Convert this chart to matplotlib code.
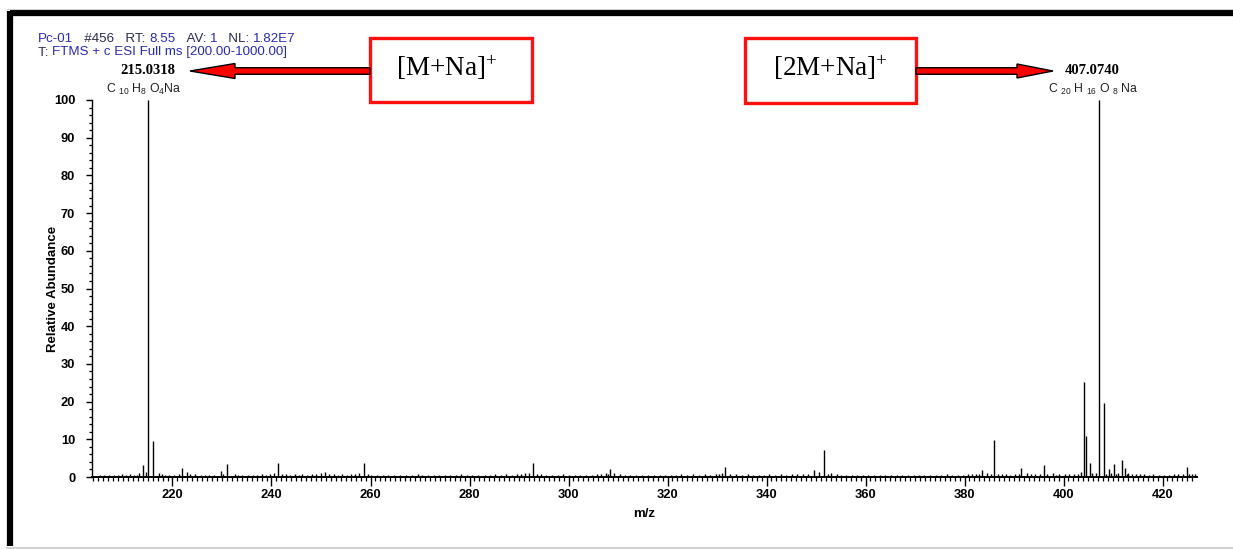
import matplotlib
matplotlib.use("Agg")
import matplotlib.pyplot as plt
from matplotlib.patches import Rectangle, FancyArrow
from matplotlib.offsetbox import TextArea, HPacker, AnnotationBbox
from matplotlib.ticker import MultipleLocator

plt.rcParams['mathtext.default'] = 'regular'

# ---------------- data ----------------
peak_mz = [213.95, 215.03, 216.03, 222.0, 229.7, 231.0, 241.3, 258.6, 292.9, 308.4,
           331.6, 349.6, 351.7, 383.5, 385.9, 391.4, 396.0, 404.1, 404.6, 405.3,
           407.07, 408.08, 409.1, 410.2, 411.9, 412.4, 425.0]
peak_int = [3.3, 100, 9.5, 2.5, 1.5, 3.4, 3.6, 3.6, 3.6, 2.0,
            2.6, 1.8, 7.1, 1.9, 9.8, 2.5, 3.2, 25.2, 11.0, 3.6,
            100, 19.6, 2.0, 3.5, 4.4, 2.5, 2.6]

noise_mz = [206.2, 208.1, 209.7, 211.4, 212.3, 213.2, 214.6, 217.2, 218.4, 222.9,
            223.6, 224.5, 225.8, 227.3, 232.6, 234.1, 236.2, 238.0, 239.6, 240.6,
            243.0, 244.7, 246.2, 248.1, 249.9, 250.8, 252.6, 254.3, 256.0, 257.6,
            260.2, 262.5, 264.8, 267.1, 269.5, 271.6, 273.9, 276.0, 278.3, 280.6,
            283.1, 285.2, 287.4, 289.6, 291.2, 292.1, 294.4, 296.7, 298.9, 301.3,
            303.6, 305.8, 307.5, 309.2, 311.4, 313.7, 316.0, 318.4, 320.7, 322.8,
            325.1, 327.5, 329.7, 331.0, 333.9, 336.2, 338.4, 340.6, 342.9, 345.1,
            347.3, 350.6, 353.0, 354.2, 356.1, 358.3, 360.6, 362.9, 365.2, 367.4,
            369.7, 371.9, 374.2, 376.4, 378.7, 380.8, 382.4, 384.6, 386.8, 388.4,
            390.1, 392.6, 394.2, 395.3, 397.8, 399.1, 401.2, 402.9, 403.6, 406.6,
            409.6, 411.0, 413.1, 414.6, 416.2, 418.1, 420.3, 422.4, 424.1, 426.0]
noise_int = [0.6, 0.5, 0.7, 0.8, 0.6, 1.0, 1.2, 1.1, 0.6, 1.3,
             0.9, 0.7, 0.6, 0.5, 0.9, 0.6, 0.5, 0.7, 0.8, 1.1,
             0.9, 0.8, 0.7, 0.9, 1.0, 1.2, 0.8, 0.7, 0.9, 1.0,
             0.6, 0.5, 0.6, 0.5, 0.7, 0.6, 0.5, 0.6, 0.7, 0.5,
             0.6, 0.7, 0.8, 0.9, 1.1, 1.0, 0.8, 0.6, 0.7, 0.5,
             0.6, 0.7, 1.0, 1.1, 0.6, 0.5, 0.6, 0.5, 0.6, 0.7,
             0.8, 0.7, 0.9, 1.0, 0.8, 0.7, 0.6, 0.7, 0.8, 0.7,
             0.9, 1.2, 1.0, 0.8, 0.6, 0.5, 0.6, 0.5, 0.6, 0.5,
             0.6, 0.5, 0.6, 0.7, 0.6, 0.7, 0.9, 1.0, 0.8, 0.7,
             0.9, 1.0, 0.8, 0.9, 1.1, 0.8, 0.7, 0.9, 1.2, 1.0,
             1.1, 1.0, 1.1, 0.9, 0.8, 0.7, 0.6, 0.7, 0.8, 0.9]

noise_mz_b = [205.3, 207.1, 208.9, 210.6, 212.8, 217.8, 219.3, 220.4, 221.3, 226.5,
              228.4, 230.3, 233.3, 235.2, 237.1, 238.8, 242.2, 243.8, 245.5, 247.1,
              249.0, 251.7, 253.5, 255.2, 256.8, 259.4, 261.3, 263.6, 265.9, 268.3,
              270.5, 272.8, 275.0, 277.2, 279.4, 281.8, 284.2, 286.3, 288.5, 290.4,
              293.6, 295.5, 297.8, 300.1, 302.4, 304.7, 306.6, 308.0, 310.3, 312.5,
              314.8, 317.2, 319.5, 321.7, 324.0, 326.3, 328.6, 330.4, 332.7, 335.0,
              337.3, 339.5, 341.7, 344.0, 346.2, 348.4, 352.4, 355.1, 357.2, 359.4,
              361.7, 364.0, 366.3, 368.5, 370.8, 373.0, 375.3, 377.5, 379.7, 381.6,
              383.0, 385.3, 387.6, 389.2, 391.0, 393.4, 396.6, 398.4, 400.2, 402.1,
              405.8, 408.6, 410.6, 412.9, 413.8, 415.4, 417.2, 419.2, 421.4, 423.2,
              425.4, 426.6]
noise_int_b = [0.4, 0.5, 0.4, 0.6, 0.5, 0.7, 0.5, 0.6, 0.8, 0.6,
               0.5, 0.7, 0.6, 0.5, 0.4, 0.6, 0.7, 0.6, 0.5, 0.6,
               0.7, 0.8, 0.6, 0.5, 0.7, 0.9, 0.5, 0.4, 0.5, 0.4,
               0.5, 0.4, 0.5, 0.4, 0.5, 0.6, 0.4, 0.5, 0.6, 0.8,
               0.7, 0.6, 0.5, 0.4, 0.5, 0.6, 0.7, 0.9, 0.8, 0.5,
               0.4, 0.5, 0.4, 0.5, 0.6, 0.5, 0.6, 0.7, 0.8, 0.6,
               0.5, 0.6, 0.5, 0.6, 0.7, 0.8, 0.9, 0.6, 0.5, 0.4,
               0.5, 0.4, 0.5, 0.4, 0.5, 0.4, 0.5, 0.5, 0.6, 0.7,
               0.8, 0.9, 0.7, 0.6, 0.8, 0.7, 0.8, 0.6, 0.7, 0.9,
               1.0, 0.9, 0.8, 0.9, 0.8, 0.7, 0.6, 0.5, 0.6, 0.7,
               0.8, 0.7]

labelled_mz = [215.03, 407.07]
mass_labels = ["215.0318", "407.0740"]
formula_labels = ["C $_{10}$ H$_{8}$ O$_{4}$Na", "C $_{20}$ H $_{16}$ O $_{8}$ Na"]
ion_labels = ["[M+Na]$^{+}$", "[2M+Na]$^{+}$"]

x_ticks = [220, 240, 260, 280, 300, 320, 340, 360, 380, 400, 420]
y_ticks = [0, 10, 20, 30, 40, 50, 60, 70, 80, 90, 100]

header1 = [("Pc-01", "blue"), ("   #456   RT: ", "dark"), ("8.55", "blue"),
           ("   AV: ", "dark"), ("1", "blue"), ("   NL: ", "dark"), ("1.82E7", "blue")]
header2 = [("T: ", "dark"), ("FTMS + c ESI Full ms [200.00-1000.00]", "blue")]

# ---------------- figure ----------------
W, H = 1233, 549
fig = plt.figure(figsize=(W / 100, H / 100), dpi=100)
fig.patch.set_facecolor("white")

L, R, B, T = 92.3, 1196.7, 477, 100
ax = fig.add_axes([L / W, 1 - B / H, (R - L) / W, (B - T) / H])
ax.set_xlim(203.8, 426.9)
ax.set_ylim(0, 100)

ax.vlines(noise_mz_b, 0, noise_int_b, color="black", lw=1.0)
ax.vlines(noise_mz, 0, noise_int, color="black", lw=1.0)
ax.vlines(peak_mz, 0, peak_int, color="black", lw=1.0)

for s in ["top", "right"]:
    ax.spines[s].set_visible(False)
ax.spines["left"].set_linewidth(1.0)
ax.spines["bottom"].set_linewidth(1.4)

ax.set_xticks(x_ticks)
ax.set_yticks(y_ticks)
ax.xaxis.set_minor_locator(MultipleLocator(1))
ax.yaxis.set_minor_locator(MultipleLocator(2))
ax.tick_params(axis="x", which="major", direction="out", length=6.5, width=1.0, pad=2)
ax.tick_params(axis="x", which="minor", direction="out", length=2.6, width=0.9)
ax.tick_params(axis="y", which="major", direction="out", length=4.3, width=1.0, pad=8)
ax.tick_params(axis="y", which="minor", direction="out", length=2.3, width=0.9)
for lab in ax.get_xticklabels() + ax.get_yticklabels():
    lab.set_fontfamily("Liberation Sans")
    lab.set_fontweight("bold")
    lab.set_fontsize(9.3)

ax.set_xlabel("m/z", family="Liberation Sans", weight="bold", fontsize=9.5, labelpad=5)
ax.set_ylabel("Relative Abundance", family="Liberation Sans", weight="bold",
              fontsize=9.5)
ax.yaxis.set_label_coords((59 - L) / (R - L), 0.5)

# peak labels
label_dx = [0, -6]
formula_dx = [-4, -5]
for mz, m, f, dx, fdx in zip(labelled_mz, mass_labels, formula_labels, label_dx, formula_dx):
    ax.annotate(m, xy=(mz, 100), xytext=(dx, 29), textcoords="offset pixels",
                ha="center", va="center", family="Liberation Serif", weight="bold",
                fontsize=10.5, annotation_clip=False)
    ax.annotate(f, xy=(mz, 100), xytext=(fdx, 11), textcoords="offset pixels",
                ha="center", va="center", family="Liberation Sans",
                fontsize=8.8, color="#202020", annotation_clip=False)

# ---------------- overlay (pixel coordinates) ----------------
ov = fig.add_axes([0, 0, 1, 1], zorder=5)
ov.set_xlim(0, W)
ov.set_ylim(H, 0)
ov.axis("off")
ov.patch.set_alpha(0)

# frame
ov.plot([9.5, W], [13, 13], color="black", lw=4.5, solid_capstyle="butt")
ov.plot([9.5, 9.5], [10.8, 546], color="black", lw=4.5, solid_capstyle="butt")
ov.plot([7, W], [547.5, 547.5], color="#c8c8c8", lw=1.2)
ov.plot([7, W], [9, 9], color="#d0d0d0", lw=0.8)

# header text
colors = {"blue": "#2a2ab0", "dark": "#2a2a50"}
for parts, y in [(header1, 38.5), (header2, 52.5)]:
    children = [TextArea(t, textprops=dict(color=colors[c], fontsize=9.6,
                                           family="Liberation Sans")) for t, c in parts]
    pack = HPacker(children=children, pad=0, sep=0, align="baseline")
    ab = AnnotationBbox(pack, (38, y), xycoords="data", box_alignment=(0, 0.5),
                        frameon=False, pad=0)
    ov.add_artist(ab)

# red boxes with ion labels
boxes = [(370, 37.5, 162, 64), (745, 37.5, 171, 65)]
text_pos = [(447, 68), (830, 68)]
for (x0, y0, w, h), (tx, ty), lab in zip(boxes, text_pos, ion_labels):
    ov.add_patch(Rectangle((x0, y0), w, h, facecolor="white", edgecolor="#ff1010", lw=2.4))
    ov.text(tx, ty, lab, ha="center", va="center", family="Liberation Serif",
            fontsize=19.5, color="black")

# arrows
ov.add_patch(FancyArrow(370, 71, 190 - 370, 0, width=6.5, head_width=15,
                        head_length=45, length_includes_head=True,
                        facecolor="#ff0000", edgecolor="black", lw=1.0))
ov.add_patch(FancyArrow(916, 71, 1053 - 916, 0, width=6.5, head_width=14,
                        head_length=36, length_includes_head=True,
                        facecolor="#ff0000", edgecolor="black", lw=1.0))

fig.savefig("out.png", dpi=100, facecolor="white")
